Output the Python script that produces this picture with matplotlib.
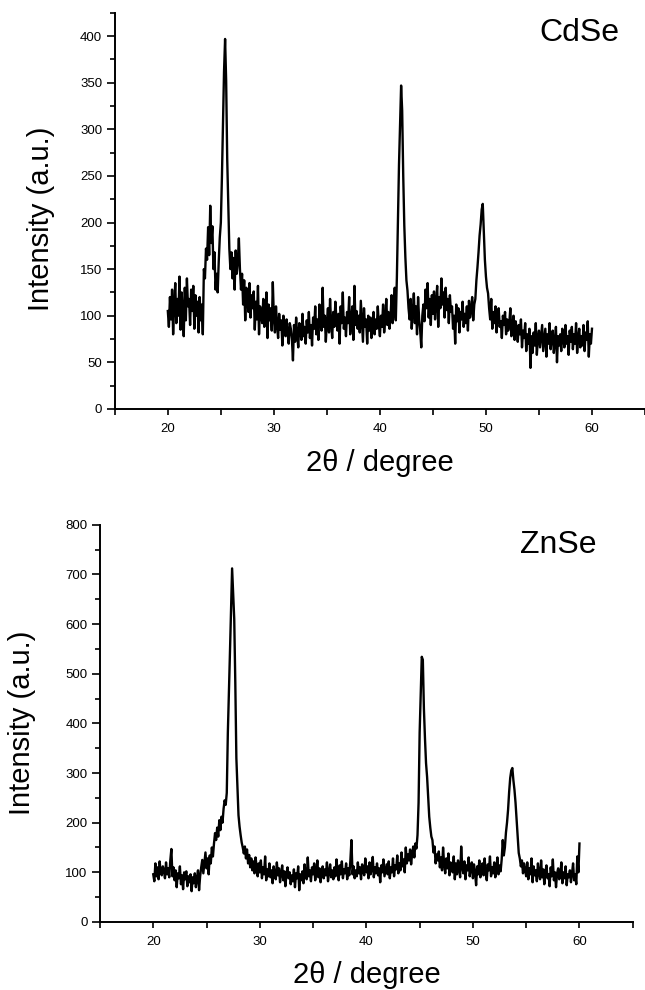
import numpy as np
import matplotlib
matplotlib.use("Agg")
import matplotlib.pyplot as plt
from matplotlib.ticker import MultipleLocator

plt.rcParams['font.family'] = ['Liberation Sans', 'DejaVu Sans']

# 2theta grid of the scans, 0.1 degree steps
two_theta = np.round(np.linspace(20.0, 60.0, 401), 1)

# CdSe intensities, one row per degree
cdse = [
    105, 88, 120, 96, 128, 80, 112, 135, 92, 118,
    100, 142, 85, 125, 108, 78, 130, 95, 140, 110,
    118, 90, 128, 105, 132, 86, 122, 100, 115, 82,
    120, 95, 112, 80, 150, 140, 172, 160, 195, 165,
    218, 178, 196, 150, 168, 128, 145, 125, 158, 184,
    200, 248, 305, 362, 397, 352, 268, 221, 172, 150,
    168, 140, 162, 128, 170, 145, 158, 183, 150, 128,
    145, 112, 138, 95, 130, 118, 104, 135, 98, 122,
    108, 126, 85, 115, 96, 132, 80, 110, 102, 92,
    118, 88, 104, 125, 76, 112, 95, 108, 84, 136,
    98, 82, 110, 90, 76, 102, 85, 95, 68, 100,
    88, 78, 96, 82, 70, 92, 86, 75, 52, 90,
    72, 98, 80, 66, 92, 84, 74, 102, 78, 88,
    70, 95, 82, 104, 76, 90, 68, 98, 86, 110,
    80, 96, 74, 112, 90, 84, 130, 88, 100, 72,
    94, 108, 82, 118, 92, 76, 104, 88, 115, 96,
    84, 102, 70, 110, 92, 125, 86, 98, 78, 104,
    92, 120, 80, 96, 110, 74, 132, 90, 105, 86,
    100, 82, 116, 94, 72, 108, 88, 96, 70, 100,
    84, 98, 76, 92, 104, 80, 96, 86, 110, 90,
    78, 100, 88, 112, 82, 96, 118, 90, 104, 86,
    98, 122, 92, 108, 130, 95, 141, 202, 262, 306,
    347, 320, 250, 197, 163, 138, 127, 108, 96, 118,
    86, 104, 124, 92, 110, 80, 120, 96, 84, 66,
    100, 112, 94, 128, 108, 135, 98, 118, 90, 122,
    102, 126, 96, 115, 132, 88, 120, 108, 140, 112,
    125, 98, 130, 106, 118, 92, 122, 104, 110, 86,
    100, 70, 112, 94, 108, 82, 104, 96, 115, 88,
    102, 92, 110, 84, 116, 98, 106, 120, 95, 112,
    118, 138, 152, 168, 186, 198, 214, 220, 190, 160,
    142, 130, 124, 108, 96, 118, 86, 104, 92, 110,
    82, 98, 108, 88, 94, 76, 100, 90, 104, 80,
    96, 84, 92, 108, 78, 88, 100, 74, 94, 86,
    72, 90, 80, 96, 66, 84, 76, 92, 62, 80,
    70, 86, 44, 78, 60, 82, 68, 92, 58, 76,
    84, 66, 78, 90, 62, 74, 86, 56, 80, 70,
    92, 64, 76, 84, 60, 72, 88, 50, 78, 68,
    80, 62, 86, 74, 66, 90, 70, 78, 58, 84,
    72, 88, 64, 80, 70, 92, 60, 76, 86, 66,
    78, 68, 90, 62, 82, 74, 94, 56, 80, 70,
    86,
]

# ZnSe intensities
znse = [
    96, 82, 118, 92, 110, 86, 122, 100, 94, 112,
    104, 88, 120, 96, 108, 90, 124, 147, 92, 110,
    84, 104, 70, 98, 88, 112, 76, 94, 66, 100,
    86, 102, 72, 92, 80, 96, 62, 90, 78, 98,
    70, 88, 104, 64, 92, 110, 125, 98, 118, 140,
    108, 128, 96, 134, 118, 150, 132, 158, 179, 165,
    190, 172, 205, 185, 212, 200, 228, 245, 236, 260,
    381, 460, 544, 630, 712, 660, 610, 482, 330, 270,
    215, 192, 175, 160, 150, 138, 152, 128, 146, 118,
    135, 110, 128, 104, 122, 98, 130, 112, 92, 118,
    100, 124, 88, 110, 96, 132, 84, 106, 92, 118,
    90, 104, 78, 112, 96, 86, 120, 94, 108, 80,
    98, 114, 84, 102, 72, 96, 110, 88, 100, 76,
    94, 82, 106, 70, 98, 88, 112, 64, 96, 84,
    102, 78, 116, 94, 86, 130, 92, 104, 82, 110,
    96, 118, 84, 102, 124, 90, 108, 80, 98, 112,
    88, 106, 94, 120, 82, 100, 116, 90, 104, 86,
    110, 92, 126, 100, 84, 114, 96, 122, 88, 106,
    98, 118, 86, 108, 94, 124, 165, 96, 112, 88,
    104, 92, 120, 98, 110, 86, 116, 102, 94, 128,
    100, 112, 88, 120, 96, 106, 131, 90, 110, 98,
    118, 94, 108, 80, 114, 100, 126, 92, 104, 116,
    96, 122, 88, 110, 100, 128, 92, 114, 106, 134,
    98, 118, 104, 140, 112, 126, 100, 150, 118, 136,
    124, 146, 116, 138, 152, 130, 158, 148, 175, 240,
    381, 460, 534, 528, 430, 370, 320, 292, 250, 212,
    190, 172, 165, 140, 152, 118, 136, 124, 142, 110,
    130, 104, 150, 116, 98, 128, 108, 138, 94, 120,
    112, 100, 132, 86, 118, 96, 124, 106, 90, 152,
    110, 98, 122, 86, 114, 104, 130, 92, 108, 120,
    88, 116, 100, 74, 112, 96, 124, 90, 106, 118,
    94, 128, 100, 84, 116, 104, 132, 92, 110, 98,
    120, 90, 108, 130, 96, 114, 102, 126, 165, 134,
    150, 180, 200, 226, 262, 290, 305, 310, 285, 266,
    240, 206, 170, 139, 128, 112, 124, 98, 118, 104,
    92, 120, 86, 108, 96, 128, 80, 112, 94, 104,
    82, 118, 98, 86, 124, 90, 106, 76, 100, 114,
    88, 96, 72, 110, 92, 126, 84, 100, 70, 98,
    108, 86, 94, 120, 78, 100, 88, 112, 74, 96,
    90, 104, 80, 98, 118, 84, 96, 76, 132, 100,
    158,
]

x_ticks = [20, 30, 40, 50, 60]
y_top_ticks = [0, 50, 100, 150, 200, 250, 300, 350, 400]
y_bot_ticks = [0, 100, 200, 300, 400, 500, 600, 700, 800]


def style_axis(ax, ymax, yticks, yminor):
    ax.set_xlim(15, 65)
    ax.set_ylim(0, ymax)
    ax.set_xticks(x_ticks)
    ax.set_yticks(yticks)
    ax.xaxis.set_minor_locator(MultipleLocator(5))
    ax.yaxis.set_minor_locator(MultipleLocator(yminor))
    for s in ['top', 'right']:
        ax.spines[s].set_visible(False)
    for s in ['left', 'bottom']:
        ax.spines[s].set_linewidth(1.4)
    ax.tick_params(axis='y', which='major', length=6, width=1.2, labelsize=9.5, pad=3)
    ax.tick_params(axis='y', which='minor', length=3.5, width=1.2)
    ax.tick_params(axis='x', which='both', length=4, width=1.2, labelsize=9.5, pad=6)


fig = plt.figure(figsize=(6.45, 9.90), dpi=100)

ax1 = fig.add_axes([0.178, 0.587, 0.822, 0.400])
ax1.plot(two_theta, cdse, color='black', lw=1.7)
style_axis(ax1, 425, y_top_ticks, 25)

ax2 = fig.add_axes([0.155, 0.0687, 0.826, 0.4013])
ax2.plot(two_theta, znse, color='black', lw=1.7)
style_axis(ax2, 800, y_bot_ticks, 50)

fig.text(0.899, 0.967, 'CdSe', fontsize=23, ha='center', va='center')
fig.text(0.865, 0.449, 'ZnSe', fontsize=23, ha='center', va='center')

fig.text(0.064, 0.779, 'Intensity (a.u.)', fontsize=21, rotation=90, ha='center', va='center')
fig.text(0.034, 0.270, 'Intensity (a.u.)', fontsize=21, rotation=90, ha='center', va='center')

fig.text(0.589, 0.532, '2θ / degree', fontsize=21, ha='center', va='center')
fig.text(0.569, 0.015, '2θ / degree', fontsize=21, ha='center', va='center')

fig.savefig('out.png', dpi=100)
